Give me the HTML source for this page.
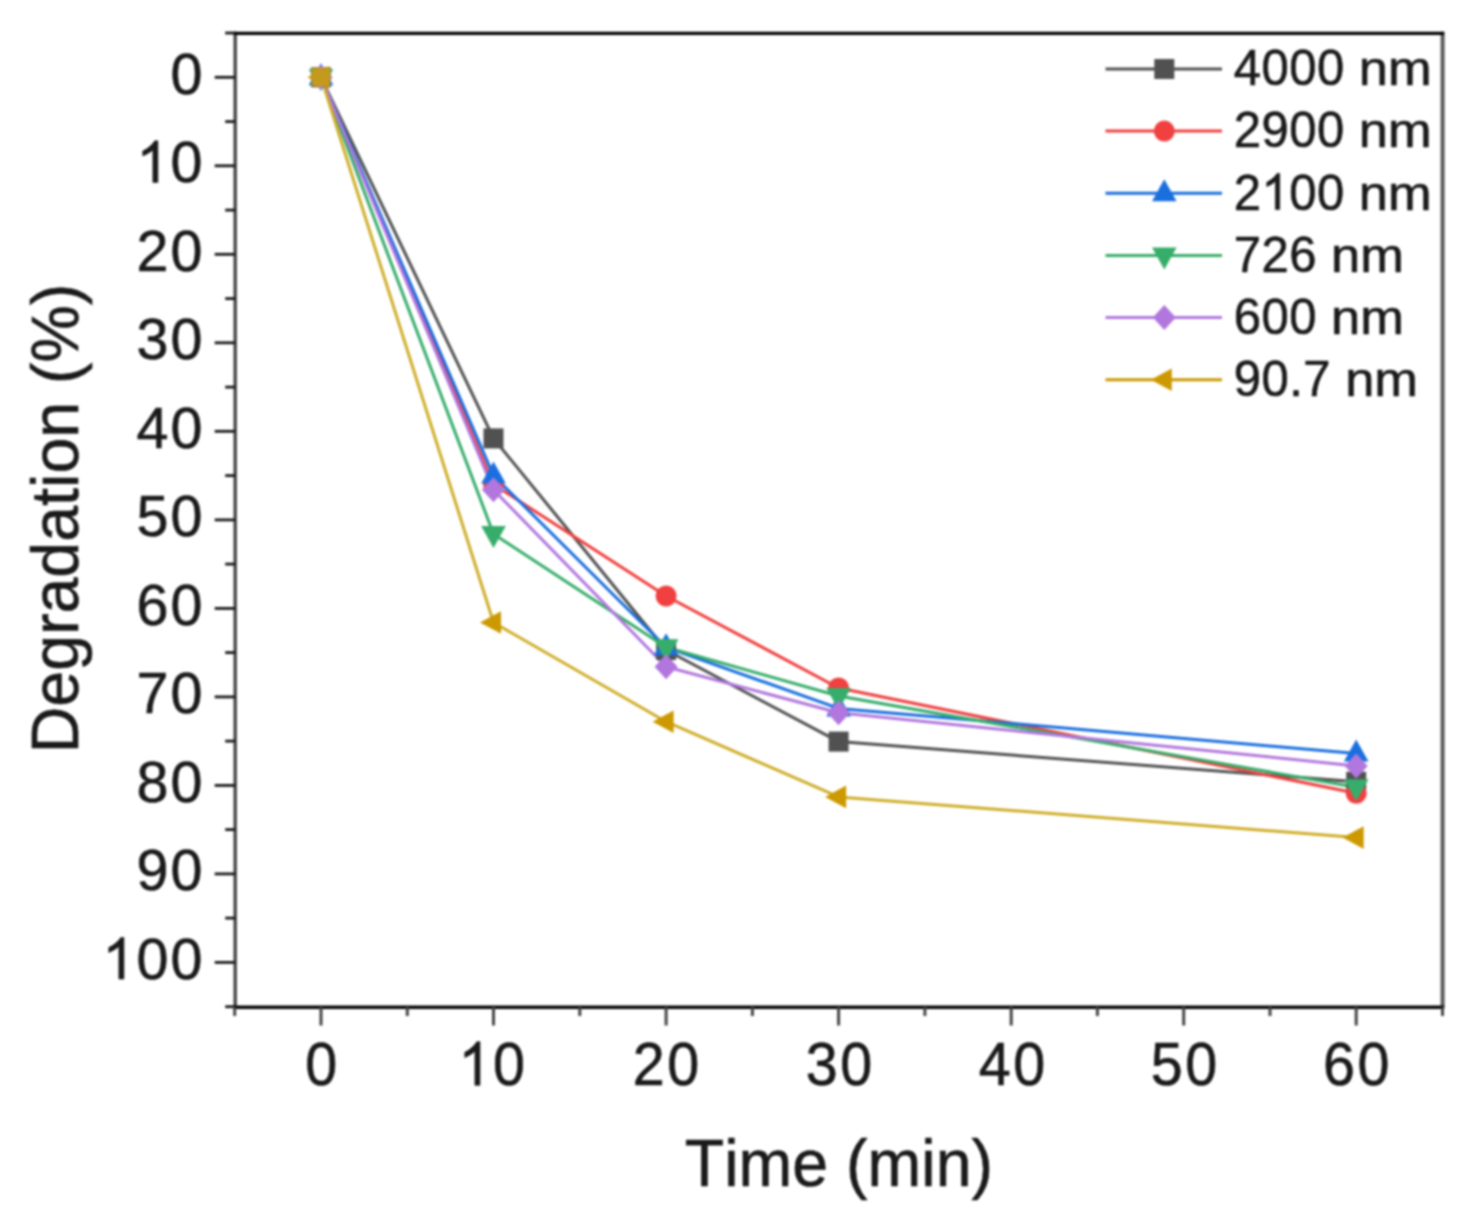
<!DOCTYPE html>
<html><head><meta charset="utf-8"><style>
html,body{margin:0;padding:0;background:#fff;}
body{width:1473px;height:1222px;overflow:hidden;}
svg{display:block;filter:blur(0.9px);}
text{font-family:"Liberation Sans",sans-serif;}
</style></head><body>
<svg width="1473" height="1222" viewBox="0 0 1473 1222">
<rect width="1473" height="1222" fill="#fff"/>

<polyline points="321.0,77.3 493.5,438.4 666.1,650.0 838.6,741.6 1356.2,781.8" fill="none" stroke="#515151" stroke-width="3" stroke-linejoin="round"/>
<polyline points="321.0,77.3 493.5,484.4 666.1,596.0 838.6,688.0 1356.2,793.3" fill="none" stroke="#F14040" stroke-width="3" stroke-linejoin="round"/>
<polyline points="321.0,77.3 493.5,475.6 666.1,647.3 838.6,708.4 1356.2,753.5" fill="none" stroke="#1A6FDF" stroke-width="3" stroke-linejoin="round"/>
<polyline points="321.0,77.3 493.5,534.0 666.1,647.3 838.6,696.0 1356.2,787.2" fill="none" stroke="#37AD6B" stroke-width="3" stroke-linejoin="round"/>
<polyline points="321.0,77.3 493.5,489.8 666.1,666.8 838.6,712.8 1356.2,765.9" fill="none" stroke="#B177DE" stroke-width="3" stroke-linejoin="round"/>
<polyline points="321.0,77.3 493.5,622.5 666.1,721.7 838.6,796.9 1356.2,837.6" fill="none" stroke="#cfae2a" stroke-width="3" stroke-linejoin="round"/>
<rect x="311.0" y="67.3" width="20" height="20" fill="#515151"/>
<rect x="483.5" y="428.4" width="20" height="20" fill="#515151"/>
<rect x="656.1" y="640.0" width="20" height="20" fill="#515151"/>
<rect x="828.6" y="731.6" width="20" height="20" fill="#515151"/>
<rect x="1346.2" y="771.8" width="20" height="20" fill="#515151"/>
<circle cx="321.0" cy="77.3" r="10.5" fill="#F14040"/>
<circle cx="493.5" cy="484.4" r="10.5" fill="#F14040"/>
<circle cx="666.1" cy="596.0" r="10.5" fill="#F14040"/>
<circle cx="838.6" cy="688.0" r="10.5" fill="#F14040"/>
<circle cx="1356.2" cy="793.3" r="10.5" fill="#F14040"/>
<polygon points="321.0,63.3 333.3,85.3 308.7,85.3" fill="#1A6FDF"/>
<polygon points="493.5,461.6 505.8,483.6 481.2,483.6" fill="#1A6FDF"/>
<polygon points="666.1,633.3 678.4,655.3 653.8,655.3" fill="#1A6FDF"/>
<polygon points="838.6,694.4 850.9,716.4 826.3,716.4" fill="#1A6FDF"/>
<polygon points="1356.2,739.5 1368.5,761.5 1343.9,761.5" fill="#1A6FDF"/>
<polygon points="321.0,91.3 333.3,69.3 308.7,69.3" fill="#37AD6B"/>
<polygon points="493.5,548.0 505.8,526.0 481.2,526.0" fill="#37AD6B"/>
<polygon points="666.1,661.3 678.4,639.3 653.8,639.3" fill="#37AD6B"/>
<polygon points="838.6,710.0 850.9,688.0 826.3,688.0" fill="#37AD6B"/>
<polygon points="1356.2,801.2 1368.5,779.2 1343.9,779.2" fill="#37AD6B"/>
<polygon points="321.0,64.8 332.5,77.3 321.0,89.8 309.5,77.3" fill="#B177DE"/>
<polygon points="493.5,477.3 505.0,489.8 493.5,502.3 482.0,489.8" fill="#B177DE"/>
<polygon points="666.1,654.3 677.6,666.8 666.1,679.3 654.6,666.8" fill="#B177DE"/>
<polygon points="838.6,700.3 850.1,712.8 838.6,725.3 827.1,712.8" fill="#B177DE"/>
<polygon points="1356.2,753.4 1367.7,765.9 1356.2,778.4 1344.7,765.9" fill="#B177DE"/>
<polygon points="307.5,77.3 328.5,66.0 328.5,88.6" fill="#CC9900"/>
<polygon points="480.0,622.5 501.0,611.2 501.0,633.8" fill="#CC9900"/>
<polygon points="652.6,721.7 673.6,710.4 673.6,733.0" fill="#CC9900"/>
<polygon points="825.1,796.9 846.1,785.6 846.1,808.2" fill="#CC9900"/>
<polygon points="1342.7,837.6 1363.7,826.3 1363.7,848.9" fill="#CC9900"/>
<rect x="311.7" y="67.8" width="18.6" height="18.6" fill="#c29a1c"/>
<line x1="235.2" y1="31.799999999999997" x2="235.2" y2="1008.5" stroke="#444" stroke-width="3.4"/>
<line x1="1442.6" y1="31.799999999999997" x2="1442.6" y2="1008.5" stroke="#5a5a5a" stroke-width="4.0"/>
<line x1="233.7" y1="33.3" x2="1444.1" y2="33.3" stroke="#000" stroke-width="3.2"/>
<line x1="233.7" y1="1007.3" x2="1444.1" y2="1007.3" stroke="#050505" stroke-width="3.6"/>
<line x1="214.7" y1="77.3" x2="235.2" y2="77.3" stroke="#1a1a1a" stroke-width="2.8"/>
<line x1="214.7" y1="165.8" x2="235.2" y2="165.8" stroke="#1a1a1a" stroke-width="2.8"/>
<line x1="214.7" y1="254.3" x2="235.2" y2="254.3" stroke="#1a1a1a" stroke-width="2.8"/>
<line x1="214.7" y1="342.8" x2="235.2" y2="342.8" stroke="#1a1a1a" stroke-width="2.8"/>
<line x1="214.7" y1="431.3" x2="235.2" y2="431.3" stroke="#1a1a1a" stroke-width="2.8"/>
<line x1="214.7" y1="519.9" x2="235.2" y2="519.9" stroke="#1a1a1a" stroke-width="2.8"/>
<line x1="214.7" y1="608.4" x2="235.2" y2="608.4" stroke="#1a1a1a" stroke-width="2.8"/>
<line x1="214.7" y1="696.9" x2="235.2" y2="696.9" stroke="#1a1a1a" stroke-width="2.8"/>
<line x1="214.7" y1="785.4" x2="235.2" y2="785.4" stroke="#1a1a1a" stroke-width="2.8"/>
<line x1="214.7" y1="873.9" x2="235.2" y2="873.9" stroke="#1a1a1a" stroke-width="2.8"/>
<line x1="214.7" y1="962.4" x2="235.2" y2="962.4" stroke="#1a1a1a" stroke-width="2.8"/>
<line x1="225.2" y1="33.0" x2="235.2" y2="33.0" stroke="#1a1a1a" stroke-width="2.8"/>
<line x1="225.2" y1="121.6" x2="235.2" y2="121.6" stroke="#1a1a1a" stroke-width="2.8"/>
<line x1="225.2" y1="210.1" x2="235.2" y2="210.1" stroke="#1a1a1a" stroke-width="2.8"/>
<line x1="225.2" y1="298.6" x2="235.2" y2="298.6" stroke="#1a1a1a" stroke-width="2.8"/>
<line x1="225.2" y1="387.1" x2="235.2" y2="387.1" stroke="#1a1a1a" stroke-width="2.8"/>
<line x1="225.2" y1="475.6" x2="235.2" y2="475.6" stroke="#1a1a1a" stroke-width="2.8"/>
<line x1="225.2" y1="564.1" x2="235.2" y2="564.1" stroke="#1a1a1a" stroke-width="2.8"/>
<line x1="225.2" y1="652.6" x2="235.2" y2="652.6" stroke="#1a1a1a" stroke-width="2.8"/>
<line x1="225.2" y1="741.1" x2="235.2" y2="741.1" stroke="#1a1a1a" stroke-width="2.8"/>
<line x1="225.2" y1="829.6" x2="235.2" y2="829.6" stroke="#1a1a1a" stroke-width="2.8"/>
<line x1="225.2" y1="918.1" x2="235.2" y2="918.1" stroke="#1a1a1a" stroke-width="2.8"/>
<line x1="225.2" y1="1006.7" x2="235.2" y2="1006.7" stroke="#1a1a1a" stroke-width="2.8"/>
<line x1="321.0" y1="1007.0" x2="321.0" y2="1025.5" stroke="#444" stroke-width="3"/>
<line x1="493.5" y1="1007.0" x2="493.5" y2="1025.5" stroke="#444" stroke-width="3"/>
<line x1="666.1" y1="1007.0" x2="666.1" y2="1025.5" stroke="#444" stroke-width="3"/>
<line x1="838.6" y1="1007.0" x2="838.6" y2="1025.5" stroke="#444" stroke-width="3"/>
<line x1="1011.2" y1="1007.0" x2="1011.2" y2="1025.5" stroke="#444" stroke-width="3"/>
<line x1="1183.7" y1="1007.0" x2="1183.7" y2="1025.5" stroke="#444" stroke-width="3"/>
<line x1="1356.2" y1="1007.0" x2="1356.2" y2="1025.5" stroke="#444" stroke-width="3"/>
<line x1="234.7" y1="1007.0" x2="234.7" y2="1016.0" stroke="#444" stroke-width="3"/>
<line x1="407.3" y1="1007.0" x2="407.3" y2="1016.0" stroke="#444" stroke-width="3"/>
<line x1="579.8" y1="1007.0" x2="579.8" y2="1016.0" stroke="#444" stroke-width="3"/>
<line x1="752.4" y1="1007.0" x2="752.4" y2="1016.0" stroke="#444" stroke-width="3"/>
<line x1="924.9" y1="1007.0" x2="924.9" y2="1016.0" stroke="#444" stroke-width="3"/>
<line x1="1097.4" y1="1007.0" x2="1097.4" y2="1016.0" stroke="#444" stroke-width="3"/>
<line x1="1270.0" y1="1007.0" x2="1270.0" y2="1016.0" stroke="#444" stroke-width="3"/>
<line x1="1442.5" y1="1007.0" x2="1442.5" y2="1016.0" stroke="#444" stroke-width="3"/>
<g transform="translate(0,93.90) scale(1,1.01)"><text x="170.47" y="0" font-size="57.5" fill="#1a1a1a" stroke="#1a1a1a" stroke-width="0.6">0</text></g>
<g transform="translate(0,182.41) scale(1,1.01)"><text x="170.47" y="0" font-size="57.5" fill="#1a1a1a" stroke="#1a1a1a" stroke-width="0.6">0</text><path d="M763,0 L583,0 L583,1147 Q518,1085 422,1028.5 Q326,972 223,934 L223,1108 Q371,1178 482.5,1277 Q594,1376 651,1466 L763,1466 Z" transform="translate(136.49,0) scale(0.02808,-0.02808)" fill="#1a1a1a" stroke="#1a1a1a" stroke-width="21.37"/></g>
<g transform="translate(0,270.92) scale(1,1.01)"><text x="136.49 170.47" y="0" font-size="57.5" fill="#1a1a1a" stroke="#1a1a1a" stroke-width="0.6">20</text></g>
<g transform="translate(0,359.43) scale(1,1.01)"><text x="136.49 170.47" y="0" font-size="57.5" fill="#1a1a1a" stroke="#1a1a1a" stroke-width="0.6">30</text></g>
<g transform="translate(0,447.94) scale(1,1.01)"><text x="136.49 170.47" y="0" font-size="57.5" fill="#1a1a1a" stroke="#1a1a1a" stroke-width="0.6">40</text></g>
<g transform="translate(0,536.45) scale(1,1.01)"><text x="136.49 170.47" y="0" font-size="57.5" fill="#1a1a1a" stroke="#1a1a1a" stroke-width="0.6">50</text></g>
<g transform="translate(0,624.96) scale(1,1.01)"><text x="136.49 170.47" y="0" font-size="57.5" fill="#1a1a1a" stroke="#1a1a1a" stroke-width="0.6">60</text></g>
<g transform="translate(0,713.47) scale(1,1.01)"><text x="136.49 170.47" y="0" font-size="57.5" fill="#1a1a1a" stroke="#1a1a1a" stroke-width="0.6">70</text></g>
<g transform="translate(0,801.98) scale(1,1.01)"><text x="136.49 170.47" y="0" font-size="57.5" fill="#1a1a1a" stroke="#1a1a1a" stroke-width="0.6">80</text></g>
<g transform="translate(0,890.49) scale(1,1.01)"><text x="136.49 170.47" y="0" font-size="57.5" fill="#1a1a1a" stroke="#1a1a1a" stroke-width="0.6">90</text></g>
<g transform="translate(0,979.00) scale(1,1.01)"><text x="136.49 170.47" y="0" font-size="57.5" fill="#1a1a1a" stroke="#1a1a1a" stroke-width="0.6">00</text><path d="M763,0 L583,0 L583,1147 Q518,1085 422,1028.5 Q326,972 223,934 L223,1108 Q371,1178 482.5,1277 Q594,1376 651,1466 L763,1466 Z" transform="translate(102.51,0) scale(0.02808,-0.02808)" fill="#1a1a1a" stroke="#1a1a1a" stroke-width="21.37"/></g>
<g transform="translate(0,1085.30) scale(1,1.06)"><text x="305.31" y="0" font-size="57.5" fill="#1a1a1a" stroke="#1a1a1a" stroke-width="0.6">0</text></g>
<g transform="translate(0,1085.30) scale(1,1.06)"><text x="493.13" y="0" font-size="57.5" fill="#1a1a1a" stroke="#1a1a1a" stroke-width="0.6">0</text><path d="M763,0 L583,0 L583,1147 Q518,1085 422,1028.5 Q326,972 223,934 L223,1108 Q371,1178 482.5,1277 Q594,1376 651,1466 L763,1466 Z" transform="translate(458.55,0) scale(0.02808,-0.02808)" fill="#1a1a1a" stroke="#1a1a1a" stroke-width="21.37"/></g>
<g transform="translate(0,1085.30) scale(1,1.06)"><text x="632.78 667.36" y="0" font-size="57.5" fill="#1a1a1a" stroke="#1a1a1a" stroke-width="0.6">20</text></g>
<g transform="translate(0,1085.30) scale(1,1.06)"><text x="805.67 840.25" y="0" font-size="57.5" fill="#1a1a1a" stroke="#1a1a1a" stroke-width="0.6">30</text></g>
<g transform="translate(0,1085.30) scale(1,1.06)"><text x="978.64 1013.22" y="0" font-size="57.5" fill="#1a1a1a" stroke="#1a1a1a" stroke-width="0.6">40</text></g>
<g transform="translate(0,1085.30) scale(1,1.06)"><text x="1150.69 1185.27" y="0" font-size="57.5" fill="#1a1a1a" stroke="#1a1a1a" stroke-width="0.6">50</text></g>
<g transform="translate(0,1085.30) scale(1,1.06)"><text x="1322.92 1357.50" y="0" font-size="57.5" fill="#1a1a1a" stroke="#1a1a1a" stroke-width="0.6">60</text></g>
<g transform="translate(0,1185.80) scale(1,1.035)"><text x="684.85 724.25 738.58 792.31 846.10 867.58 921.31 935.64 971.51" y="0" font-size="64.5" fill="#1a1a1a" stroke="#1a1a1a" stroke-width="0.6">Time(min)</text></g>
<g transform="translate(77.6,748) rotate(-90)"><g transform="translate(0,0.00) scale(1,1.035)"><text x="-5.29 41.29 77.16 113.03 134.51 170.38 206.26 242.13 260.05 274.38 310.25 364.04 385.52 442.87" y="0" font-size="64.5" fill="#1a1a1a" stroke="#1a1a1a" stroke-width="0.6">Degradation(%)</text></g></g>
<line x1="1105.5" y1="69.0" x2="1222" y2="69.0" stroke="#515151" stroke-width="3"/>
<rect x="1154.3" y="59.0" width="20" height="20" fill="#515151"/>
<g transform="translate(0,85.30) scale(1,1.03)"><text x="1233.70 1261.45 1289.20 1316.95" y="0" font-size="49" fill="#1a1a1a" stroke="#1a1a1a" stroke-width="0.6">4000</text></g>
<g transform="translate(1358.82,85.30) scale(1.07,1.0) translate(-1358.82,0)"><text x="1358.82 1386.07" y="0" font-size="49" fill="#1a1a1a" stroke="#1a1a1a" stroke-width="0.6">nm</text></g>
<line x1="1105.5" y1="131.1" x2="1222" y2="131.1" stroke="#F14040" stroke-width="3"/>
<circle cx="1164.3" cy="131.1" r="10.5" fill="#F14040"/>
<g transform="translate(0,147.44) scale(1,1.03)"><text x="1233.70 1261.45 1289.20 1316.95" y="0" font-size="49" fill="#1a1a1a" stroke="#1a1a1a" stroke-width="0.6">2900</text></g>
<g transform="translate(1358.82,147.44) scale(1.07,1.0) translate(-1358.82,0)"><text x="1358.82 1386.07" y="0" font-size="49" fill="#1a1a1a" stroke="#1a1a1a" stroke-width="0.6">nm</text></g>
<line x1="1105.5" y1="193.3" x2="1222" y2="193.3" stroke="#1A6FDF" stroke-width="3"/>
<polygon points="1164.3,179.3 1176.6,201.3 1152.0,201.3" fill="#1A6FDF"/>
<g transform="translate(0,209.58) scale(1,1.03)"><text x="1233.70 1289.20 1316.95" y="0" font-size="49" fill="#1a1a1a" stroke="#1a1a1a" stroke-width="0.6">200</text><path d="M763,0 L583,0 L583,1147 Q518,1085 422,1028.5 Q326,972 223,934 L223,1108 Q371,1178 482.5,1277 Q594,1376 651,1466 L763,1466 Z" transform="translate(1261.45,0) scale(0.02393,-0.02393)" fill="#1a1a1a" stroke="#1a1a1a" stroke-width="25.08"/></g>
<g transform="translate(1358.82,209.58) scale(1.07,1.0) translate(-1358.82,0)"><text x="1358.82 1386.07" y="0" font-size="49" fill="#1a1a1a" stroke="#1a1a1a" stroke-width="0.6">nm</text></g>
<line x1="1105.5" y1="255.4" x2="1222" y2="255.4" stroke="#37AD6B" stroke-width="3"/>
<polygon points="1164.3,269.4 1176.6,247.4 1152.0,247.4" fill="#37AD6B"/>
<g transform="translate(0,271.72) scale(1,1.03)"><text x="1233.70 1261.45 1289.20" y="0" font-size="49" fill="#1a1a1a" stroke="#1a1a1a" stroke-width="0.6">726</text></g>
<g transform="translate(1331.07,271.72) scale(1.07,1.0) translate(-1331.07,0)"><text x="1331.07 1358.32" y="0" font-size="49" fill="#1a1a1a" stroke="#1a1a1a" stroke-width="0.6">nm</text></g>
<line x1="1105.5" y1="317.6" x2="1222" y2="317.6" stroke="#B177DE" stroke-width="3"/>
<polygon points="1164.3,305.1 1175.8,317.6 1164.3,330.1 1152.8,317.6" fill="#B177DE"/>
<g transform="translate(0,333.86) scale(1,1.03)"><text x="1233.70 1261.45 1289.20" y="0" font-size="49" fill="#1a1a1a" stroke="#1a1a1a" stroke-width="0.6">600</text></g>
<g transform="translate(1331.07,333.86) scale(1.07,1.0) translate(-1331.07,0)"><text x="1331.07 1358.32" y="0" font-size="49" fill="#1a1a1a" stroke="#1a1a1a" stroke-width="0.6">nm</text></g>
<line x1="1105.5" y1="379.7" x2="1222" y2="379.7" stroke="#CC9900" stroke-width="3"/>
<polygon points="1150.8,379.7 1171.8,368.4 1171.8,391.0" fill="#CC9900"/>
<g transform="translate(0,396.00) scale(1,1.03)"><text x="1233.70 1261.45 1289.20 1303.32" y="0" font-size="49" fill="#1a1a1a" stroke="#1a1a1a" stroke-width="0.6">90.7</text></g>
<g transform="translate(1345.18,396.00) scale(1.07,1.0) translate(-1345.18,0)"><text x="1345.18 1372.43" y="0" font-size="49" fill="#1a1a1a" stroke="#1a1a1a" stroke-width="0.6">nm</text></g>
</svg></body></html>
